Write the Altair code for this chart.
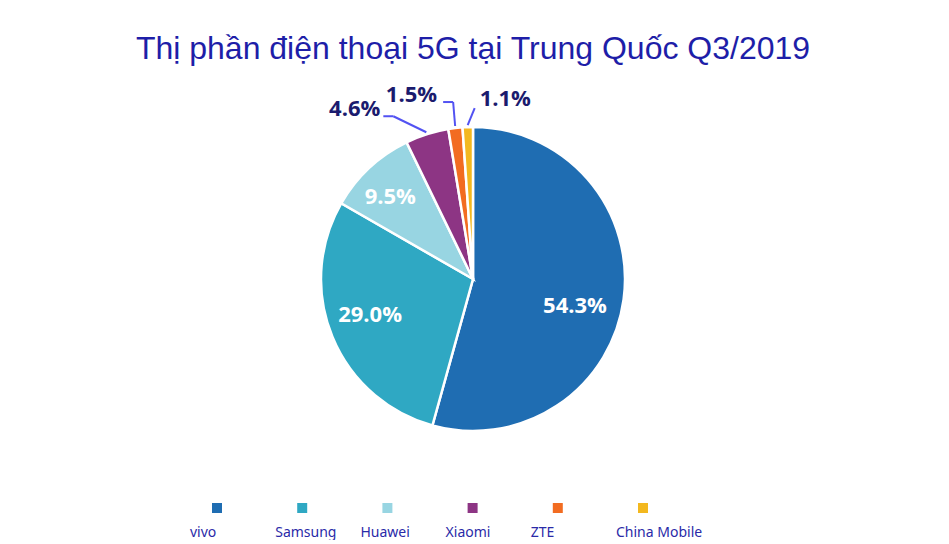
import altair as alt
import pandas as pd

# ---- data ----
categories = ["vivo", "Samsung", "Huawei", "Xiaomi", "ZTE", "China Mobile"]
shares = [54.3, 29.0, 9.5, 4.6, 1.5, 1.1]
share_labels = ["54.3%", "29.0%", "9.5%", "4.6%", "1.5%", "1.1%"]
title_text = "Thị phần điện thoại 5G tại Trung Quốc Q3/2019"

# ---- style ----
colors = ["#1f6db2", "#2fa8c3", "#98d5e2", "#8d3584", "#f26c21", "#f3b81f"]
W, H = 930, 396
CX, CY = W / 2, H / 2
R = 152
R_IN = 108
LABEL_FONT = "Open Sans"
NAVY = "#1b1b6e"
LEADER = "#5252f2"

df = pd.DataFrame({
    "category": categories,
    "share": shares,
    "label": share_labels,
    "order": list(range(len(categories))),
})

color_scale = alt.Scale(domain=categories, range=colors)

base = (
    alt.Chart(df)
    .transform_joinaggregate(total="sum(share)")
    .transform_window(cum="sum(share)", sort=[alt.SortField("order", order="ascending")], frame=[None, 0])
    .transform_calculate(mid="2*PI*(datum.cum - datum.share/2)/datum.total")
)

arcs = alt.Chart(df).mark_arc(outerRadius=R, stroke="white", strokeWidth=2.5).encode(
    theta=alt.Theta("share:Q", stack=True),
    color=alt.Color("category:N", scale=color_scale, legend=None),
    order=alt.Order("order:Q"),
)

layers = [arcs]

# inner labels: per-label nudges (layout)
inner_nudge = {"vivo": (-5, 12), "Samsung": (-3, -5), "Huawei": (-9, -3)}
for cat, (ndx, ndy) in inner_nudge.items():
    layers.append(
        base.transform_filter(alt.datum.category == cat)
        .transform_calculate(
            tx=f"{CX} + {R_IN}*sin(datum.mid)",
            ty=f"{CY} - {R_IN}*cos(datum.mid)",
        )
        .mark_text(font=LABEL_FONT, fontSize=22, fontWeight="bold", color="white",
                   baseline="middle", align="center", dx=ndx, dy=ndy)
        .encode(x=alt.X("tx:Q", scale=None), y=alt.Y("ty:Q", scale=None), text="label:N")
    )

# leader geometry (layout): elbow offset from slice edge, horizontal tail, label offset
leaders = {
    "Xiaomi": dict(ex=-33, ey=-16, tail=-10, ldx=-3, ldy=0, align="right"),
    "ZTE": dict(ex=-2, ey=-24, tail=-10, ldx=-6, ldy=0, align="right"),
    "China Mobile": dict(ex=7, ey=-17, tail=0, ldx=5, ldy=-2, align="left"),
}

for cat, g in leaders.items():
    b = base.transform_filter(alt.datum.category == cat).transform_calculate(
        sx=f"{CX} + {R + 2}*sin(datum.mid)",
        sy=f"{CY} - {R + 2}*cos(datum.mid)",
    ).transform_calculate(
        exx=f"datum.sx + {g['ex']}",
        eyy=f"datum.sy + {g['ey']}",
    ).transform_calculate(
        txx=f"datum.exx + {g['tail']}",
        lx=f"datum.exx + {g['tail']} + {g['ldx']}",
        ly=f"datum.eyy + {g['ldy']}",
    )
    seg1 = b.mark_rule(color=LEADER, strokeWidth=2).encode(
        x=alt.X("sx:Q", scale=None), y=alt.Y("sy:Q", scale=None),
        x2="exx:Q", y2="eyy:Q",
    )
    layers.append(seg1)
    if g["tail"] != 0:
        seg2 = b.mark_rule(color=LEADER, strokeWidth=2).encode(
            x=alt.X("exx:Q", scale=None), y=alt.Y("eyy:Q", scale=None),
            x2="txx:Q", y2="eyy:Q",
        )
        layers.append(seg2)
    lab = b.mark_text(font=LABEL_FONT, fontSize=22, fontWeight="bold", color=NAVY,
                      align=g["align"], baseline="alphabetic").encode(
        x=alt.X("lx:Q", scale=None), y=alt.Y("ly:Q", scale=None), text="label:N"
    )
    layers.append(lab)

pie = alt.layer(*layers).properties(width=W, height=H)

# ---- custom legend (symbol above label) ----
leg_x = alt.X("category:N", sort=categories, axis=None,
              scale=alt.Scale(domain=categories, range=[209, 635], padding=0))
leg_sq = alt.Chart(df).mark_square(size=100, opacity=1).encode(
    x=leg_x, y=alt.value(11),
    color=alt.Color("category:N", scale=color_scale, legend=None),
)
leg_txt = alt.Chart(df).mark_text(font="Noto Sans", fontSize=14, color="#2a2aa8",
                                  align="left", baseline="middle", dx=-27).encode(
    x=leg_x, y=alt.value(36), text="category:N"
)
legend = alt.layer(leg_sq, leg_txt).properties(width=W, height=40)

chart = (
    alt.vconcat(pie, legend, spacing=20)
    .properties(
        title=alt.TitleParams(title_text, fontSize=32, font="Liberation Sans", fontWeight="normal",
                              color="#1e1ea8", anchor="middle", offset=15),
        padding={"top": 25, "left": 0, "right": 0, "bottom": 0},
    )
    .configure_view(stroke=None)
    .resolve_scale(color="shared")
)

chart.save("out.html", embed_options={"renderer": "svg", "actions": False})
